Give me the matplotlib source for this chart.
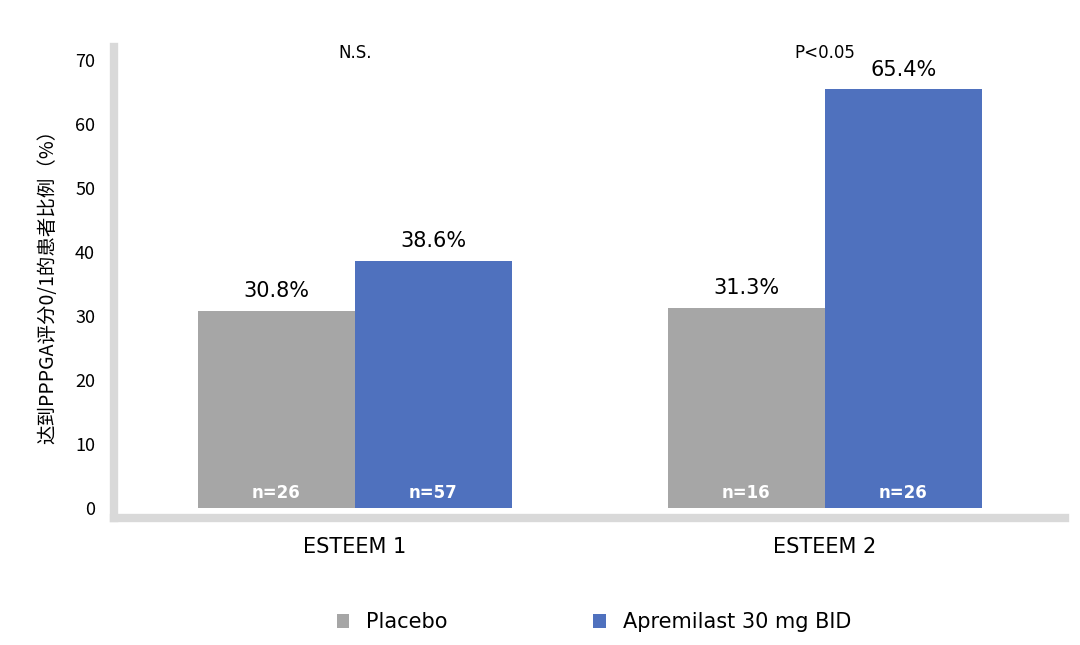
import matplotlib
matplotlib.use('Agg')
import matplotlib.pyplot as plt
import numpy as np

plt.rcParams['font.family'] = ['Noto Sans CJK SC', 'DejaVu Sans']

groups = ['ESTEEM 1', 'ESTEEM 2']
placebo = [30.8, 31.3]
apremilast = [38.6, 65.4]
n_placebo = [26, 16]
n_apremilast = [57, 26]
sig = ['N.S.', 'P<0.05']

fig = plt.figure(figsize=(10.8, 6.45), dpi=100)
ax = fig.add_axes([0.106, 0.1975, 0.88, 0.7295])
x = np.arange(len(groups))
w = 0.334
b1 = ax.bar(x - w/2, placebo, w, color='#a6a6a6', label='Placebo')
b2 = ax.bar(x + w/2, apremilast, w, color='#4f71be', label='Apremilast 30 mg BID')

for bars, vals, ns in [(b1, placebo, n_placebo), (b2, apremilast, n_apremilast)]:
    for bar, v, n in zip(bars, vals, ns):
        cx = bar.get_x() + bar.get_width()/2
        ax.text(cx, v + 1.5, f'{v}%', ha='center', va='bottom', fontsize=15, family='DejaVu Sans')
        ax.text(cx, 1.0, f'n={n}', ha='center', va='bottom', fontsize=12,
                color='white', fontweight='bold', family='DejaVu Sans')
for xi, s in zip(x, sig):
    ax.text(xi, 71, s, ha='center', va='center', fontsize=12, family='DejaVu Sans')

ax.set_xlim(-0.511, 1.511)
ax.set_ylim(-1.5, 72)
ax.set_yticks(range(0, 71, 10))
ax.set_xticks(x)
ax.set_xticklabels(groups, fontsize=15, family='DejaVu Sans')
ax.tick_params(axis='y', labelsize=13, length=0, pad=14)
ax.tick_params(axis='x', length=0, pad=14)
for s in ['top', 'right']:
    ax.spines[s].set_visible(False)
for s in ['left', 'bottom']:
    ax.spines[s].set_color('#d9d9d9')
    ax.spines[s].set_linewidth(6)
ax.set_ylabel('达到PPPGA评分0/1的患者比例（%）', fontsize=14, labelpad=12)

fig.legend(handles=[b1, b2], loc='center', bbox_to_anchor=(0.55, 0.035), ncol=2,
           frameon=False, fontsize=15, handlelength=0.6, handleheight=0.6,
           columnspacing=7, prop={'family': 'DejaVu Sans', 'size': 15})
fig.savefig('out.png', dpi=100)
